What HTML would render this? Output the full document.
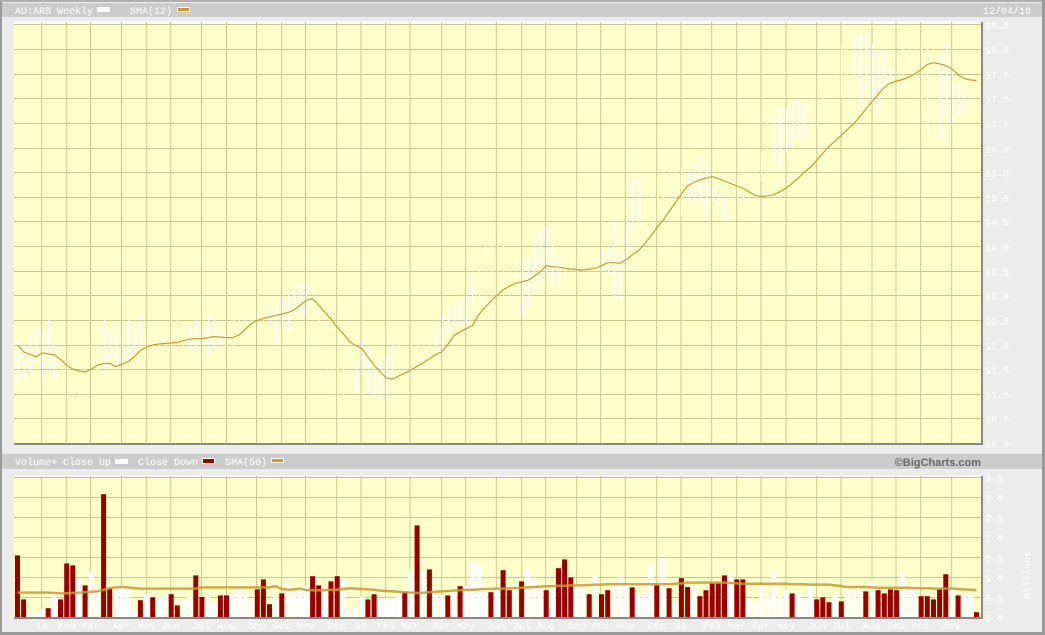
<!DOCTYPE html>
<html><head><meta charset="utf-8">
<style>
html,body{margin:0;padding:0;background:#ececec;}
body{width:1045px;height:635px;position:relative;overflow:hidden;font-family:"Liberation Mono",monospace;}
svg{position:absolute;left:0;top:0;}
</style></head>
<body>
<svg id="c" width="1045" height="635"></svg>
<script>
// ---- data ----
const monthLabels = ["14","Feb","Mar","Apr","May","Jun","Jul","Aug","Sep","Oct","Nov","Dec","15","Feb","Mar","Apr","May","Jun","Jul","Aug","Sep","Oct","Nov","Dec","16","Feb","Mar","Apr","May","Jun","Jul","Aug","Sep","Oct","Nov"];
const monthGridX = [41.7,66.7,90.5,121.5,146.7,170.7,201.5,226.5,256.5,281.7,305.5,336.7,361,385.7,410,441.7,465.7,496.3,521.7,545.7,576.7,600.7,625.3,656.7,681,711.7,736.7,761,786,816.7,841,872,896,920.7,951.7];
const priceTicks = [10.0,10.5,11.0,11.5,12.0,12.5,13.0,13.5,14.0,14.5,15.0,15.5,16.0,16.5,17.0,17.5,18.0,18.5];
const volTicks = [0,0.5,1.0,1.5,2.0,2.5,3.0,3.5];
const sma12 = [11.99,11.85,11.80,11.75,11.83,11.81,11.79,11.70,11.58,11.50,11.46,11.44,11.50,11.58,11.61,11.62,11.55,11.60,11.65,11.75,11.88,11.95,11.99,12.01,12.02,12.03,12.04,12.08,12.11,12.12,12.12,12.14,12.16,12.15,12.14,12.14,12.19,12.30,12.42,12.49,12.53,12.56,12.59,12.62,12.65,12.70,12.80,12.90,12.93,12.80,12.65,12.52,12.35,12.22,12.06,11.98,11.92,11.75,11.58,11.45,11.32,11.30,11.36,11.42,11.48,11.56,11.63,11.71,11.79,11.85,12.00,12.18,12.26,12.32,12.38,12.60,12.75,12.88,13.00,13.11,13.18,13.24,13.27,13.30,13.38,13.47,13.60,13.58,13.57,13.55,13.53,13.52,13.51,13.53,13.55,13.60,13.66,13.66,13.65,13.72,13.82,13.90,14.04,14.20,14.37,14.52,14.70,14.88,15.06,15.22,15.29,15.34,15.38,15.41,15.37,15.32,15.27,15.22,15.17,15.10,15.03,15.01,15.02,15.04,15.10,15.17,15.27,15.38,15.50,15.60,15.74,15.88,16.02,16.13,16.25,16.37,16.48,16.62,16.78,16.93,17.08,17.22,17.31,17.35,17.38,17.43,17.50,17.58,17.69,17.72,17.70,17.66,17.60,17.48,17.40,17.37,17.36,17.36,17.32];
const highs = [12.1,12.0,12.2,12.3,12.3,12.5,12.0,11.9,11.6,11.6,11.3,11.6,12.2,12.0,12.5,12.3,12.4,12.0,12.5,12.4,12.6,12.4,12.2,12.3,12.4,12.6,12.5,12.3,12.4,12.5,12.3,12.6,12.5,12.3,12.2,12.5,12.7,12.8,12.9,13.0,12.8,12.7,12.8,12.9,13.0,13.1,13.2,13.2,13.0,12.9,12.2,11.9,11.8,11.7,11.5,11.7,12.1,11.9,11.6,11.6,11.8,12.0,12.0,11.9,12.2,12.3,12.4,12.1,12.3,12.6,12.7,12.8,12.9,13.0,13.4,13.9,14.0,14.1,14.3,14.0,13.8,13.9,13.7,13.8,14.3,14.3,14.4,14.0,13.8,13.7,13.8,13.8,13.9,13.7,13.8,13.9,14.0,14.5,13.9,14.6,15.3,15.4,15.1,15.0,15.3,15.5,15.6,15.7,15.6,15.5,15.7,15.8,15.6,15.2,15.1,15.0,15.1,15.4,15.6,15.4,15.7,15.9,16.5,16.6,16.8,16.8,16.9,17.0,16.9,17.3,16.9,17.0,17.4,17.5,18.1,18.3,18.3,18.3,18.3,18.1,18.0,17.9,17.6,17.9,18.3,18.5,18.4,18.3,18.2,18.0,17.9,18.1,17.6,17.3,17.2,17.2,17.1];
const lows = [11.2,11.3,11.4,11.6,11.3,11.5,11.3,11.1,10.9,10.7,10.6,10.9,11.2,11.4,11.5,11.7,11.5,11.7,11.7,11.8,12.0,11.8,11.9,11.8,11.9,11.9,12.0,11.8,11.9,11.9,12.0,11.8,11.9,12.0,11.9,11.9,12.2,12.3,12.4,12.0,12.3,12.4,12.0,12.3,12.3,12.6,12.6,12.6,12.7,12.3,11.4,11.0,10.8,10.9,11.3,11.0,11.4,11.0,10.9,10.9,10.9,11.2,11.4,11.6,11.6,11.9,11.9,11.8,11.9,11.8,12.2,12.4,12.4,12.4,12.8,12.8,12.7,12.9,13.2,13.0,12.9,13.1,12.6,12.8,13.1,13.2,13.4,13.2,13.3,13.3,13.0,13.3,13.0,13.1,13.3,13.5,13.4,12.9,12.9,13.6,14.3,14.5,14.5,14.4,14.6,14.8,14.9,14.8,14.6,14.9,14.8,14.9,14.6,14.9,14.8,14.5,14.8,14.9,14.5,14.7,15.0,15.3,15.4,15.6,15.6,15.9,16.0,16.2,16.2,16.2,16.4,16.9,17.2,17.3,17.0,17.3,17.4,16.9,17.2,16.9,16.7,17.1,17.3,17.6,17.4,17.6,17.0,16.8,16.3,16.0,16.2,16.6,16.5,16.6,16.7];
const volumes = [1.54,0.44,0.08,0.08,0.19,0.22,0.57,0.44,1.34,1.29,0.93,0.79,1.14,0.75,3.07,0.71,0.71,0.75,0.75,0.17,0.42,0.57,0.49,0.50,0.60,0.57,0.29,0.42,0.50,1.04,0.50,0.50,0.33,0.54,0.54,0.58,0.77,0.57,0.46,0.69,0.94,0.32,0.50,0.59,0.82,0.65,0.71,0.77,1.02,0.79,0.67,0.89,1.02,0.98,0.18,0.23,0.50,0.44,0.57,0.46,0.46,0.48,0.60,0.62,1.19,2.29,1.17,1.19,0.58,0.54,0.54,0.65,0.77,0.77,1.37,1.27,0.67,0.62,0.71,1.17,0.67,0.77,0.89,1.19,0.98,0.75,0.67,0.75,1.22,1.44,0.99,0.83,0.79,0.57,1.04,0.57,0.67,0.83,1.02,0.83,0.74,0.57,0.57,1.27,0.79,1.46,0.72,0.37,0.97,0.75,0.79,0.52,0.67,0.85,0.85,1.04,1.07,0.94,0.94,0.46,0.37,0.79,0.54,1.17,0.52,0.68,0.59,0.60,0.46,0.79,0.44,0.49,0.37,0.54,0.39,0.68,0.68,0.77,0.64,0.89,0.67,0.59,0.69,0.67,1.07,0.71,0.67,0.52,0.52,0.44,0.69,1.07,0.71,0.54,0.57,0.54,0.12];
const volDown = [1,1,0,0,0,1,0,1,1,1,0,1,0,0,1,1,0,0,0,0,1,0,1,0,0,1,1,0,0,1,1,0,0,1,1,0,0,0,0,1,1,1,0,1,0,0,0,0,1,1,0,1,1,0,0,0,0,1,1,0,0,0,0,1,0,1,0,1,0,0,1,0,1,0,0,0,0,1,0,1,1,0,1,0,0,0,1,0,1,1,1,0,0,1,0,1,1,0,0,0,1,0,0,0,1,0,1,0,1,1,0,1,1,1,1,1,0,1,1,0,0,0,0,0,0,0,1,0,0,0,1,1,1,0,1,0,0,0,1,0,1,1,1,1,0,0,0,1,1,1,1,1,0,1,0,0,1];
const volSma = [0.61,0.61,0.61,0.61,0.61,0.61,0.60,0.59,0.59,0.60,0.61,0.62,0.63,0.64,0.68,0.72,0.74,0.75,0.74,0.72,0.71,0.71,0.71,0.71,0.71,0.71,0.71,0.71,0.71,0.71,0.74,0.74,0.74,0.74,0.74,0.74,0.74,0.74,0.74,0.74,0.74,0.74,0.77,0.70,0.68,0.69,0.71,0.67,0.67,0.67,0.67,0.68,0.68,0.70,0.72,0.71,0.70,0.69,0.68,0.66,0.65,0.64,0.63,0.62,0.61,0.60,0.61,0.62,0.63,0.64,0.65,0.66,0.67,0.68,0.68,0.69,0.70,0.70,0.71,0.71,0.72,0.72,0.73,0.74,0.75,0.76,0.77,0.77,0.78,0.78,0.79,0.79,0.79,0.80,0.81,0.81,0.82,0.82,0.82,0.82,0.82,0.82,0.82,0.82,0.82,0.82,0.82,0.83,0.84,0.86,0.86,0.86,0.86,0.86,0.86,0.86,0.85,0.84,0.83,0.83,0.83,0.83,0.83,0.83,0.83,0.83,0.82,0.82,0.82,0.81,0.81,0.81,0.81,0.79,0.77,0.75,0.75,0.75,0.75,0.74,0.73,0.73,0.73,0.73,0.73,0.73,0.72,0.72,0.72,0.71,0.71,0.71,0.71,0.70,0.69,0.68,0.67];

// ---- layout ----
const NS = "http://www.w3.org/2000/svg";
const svg = document.getElementById('c');
const PL = 14, PR = 981, PT = 22, PB = 443;
const VT = 476, VB = 617;
const N = volumes.length;
const xIdx = i => 17.5 + i * (959 / (N - 1));
const yPrice = v => PB - (v - 10) * 49.25;
const yVol = v => VB - v * 40;

function mk(tag, attrs, parent) {
  const e = document.createElementNS(NS, tag);
  for (const k in attrs) e.setAttribute(k, attrs[k]);
  (parent || svg).appendChild(e);
  return e;
}
function txt(s, x, y, opts, parent) {
  const t = mk('text', Object.assign({x: x, y: y, 'font-family': '"Liberation Mono", monospace', 'font-size': 10, fill: '#ffffff'}, opts || {}), parent);
  t.textContent = s;
  return t;
}

let e = mk('rect', {x: 0, y: 0, width: 1045, height: 635, fill: '#ececec'});


mk('rect', {x: 0, y: 0, width: 2, height: 635, fill: '#9a9a9a'});
mk('rect', {x: 0, y: 0, width: 1045, height: 2, fill: '#b0b0b0'});
mk('rect', {x: 1042, y: 0, width: 3, height: 635, fill: '#9a9a9a'});
mk('rect', {x: 0, y: 632, width: 1045, height: 3, fill: '#9a9a9a'});

const defs = mk('defs', {});
const cp1 = mk('clipPath', {id: 'clipP'}, defs);
mk('rect', {x: PL, y: PT, width: PR - PL, height: PB - PT}, cp1);
const cp2 = mk('clipPath', {id: 'clipV'}, defs);
mk('rect', {x: PL, y: VT, width: PR - PL, height: VB - VT}, cp2);

const hdr = mk('g', {});


mk('rect', {x: 2, y: 3, width: 1040, height: 14, fill: '#cccccc'}, hdr);
e = txt('AU:ARB Weekly', 15, 14, {}, hdr);


mk('rect', {x: 97, y: 7, width: 13, height: 5, fill: '#ffffff'}, hdr);
e = txt('SMA(12)', 130, 14, {}, hdr);


mk('rect', {x: 177.5, y: 7.5, width: 12, height: 4, fill: '#cc9933', stroke: '#ffffff', 'stroke-width': 1}, hdr);
e = txt('12/04/16', 983, 14, {}, hdr);



const vh = mk('g', {});


mk('rect', {x: 2, y: 454, width: 1040, height: 15, fill: '#cccccc'}, vh);
txt('Volume+ Close Up', 15, 465, {}, vh);
mk('rect', {x: 115, y: 459, width: 13, height: 5, fill: '#ffffff'}, vh);
txt('Close Down', 138, 465, {}, vh);
mk('rect', {x: 202.5, y: 458.5, width: 12, height: 5, fill: '#990000', stroke: '#ffffff', 'stroke-width': 1}, vh);
txt('SMA(50)', 225, 465, {}, vh);
mk('rect', {x: 271.5, y: 458.5, width: 12, height: 4, fill: '#cc9933', stroke: '#ffffff', 'stroke-width': 1}, vh);
e = txt('©BigCharts.com', 981, 466, {'text-anchor': 'end', fill: '#666666', 'font-family': '"Liberation Sans", sans-serif', 'font-weight': 'bold', 'font-size': 11}, vh);



function panel(top, bottom, name) {
  const g = mk('g', {});
  
  
  mk('rect', {x: PL, y: top, width: PR - PL, height: bottom - top, fill: '#ffffcc'}, g);
  mk('line', {x1: PL, y1: top + 0.5, x2: PR, y2: top + 0.5, stroke: '#ffffff', 'stroke-width': 2}, g);
  mk('line', {x1: PL, y1: bottom + 1, x2: PR + 1, y2: bottom + 1, stroke: '#888888', 'stroke-width': 2}, g);
  mk('line', {x1: PR + 1, y1: top, x2: PR + 1, y2: bottom + 2, stroke: '#888888', 'stroke-width': 2}, g);
  monthGridX.forEach(x => mk('line', {x1: x, y1: top, x2: x, y2: bottom, stroke: '#c8c890', 'stroke-width': 1}, g));
  return g;
}
const pp = panel(PT, PB, 'price-panel');
priceTicks.forEach(v => {
  const y = Math.round(yPrice(v)) + 0.5;
  if (v > 10) mk('line', {x1: PL, y1: y, x2: PR, y2: y, stroke: '#c8c890', 'stroke-width': 1}, pp);
  const t = txt(v.toFixed(1), 985, y + 4, {});
  
  
});
const vp = panel(VT, VB, 'volume-panel');
volTicks.forEach(v => {
  const y = Math.round(yVol(v)) + 0.5;
  if (v > 0) mk('line', {x1: PL, y1: y, x2: PR, y2: y, stroke: '#c8c890', 'stroke-width': 1}, vp);
  const t = txt(v.toFixed(1), 985, y + 4, {});
  
  
});
e = txt('Millions', 1030, 575, {transform: 'rotate(-90 1030 575)', 'text-anchor': 'middle'});



monthLabels.forEach((m, k) => {
  const t = txt(m, monthGridX[k], 629, {'text-anchor': 'middle'});
  
  
});

const bars = mk('g', {'clip-path': 'url(#clipP)'});


const nb = Math.min(N, highs.length, lows.length);
for (let i = 0; i < nb; i++) {
  const x = Math.round(xIdx(i)) + 0.5;
  const b = mk('line', {x1: x, y1: yPrice(highs[i]), x2: x, y2: yPrice(lows[i]), stroke: '#ffffff', 'stroke-width': 1}, bars);
  
  
}
const ns = Math.min(N, sma12.length);
let d = sma12.slice(0, ns).map((v, i) => (i ? 'L' : 'M') + xIdx(i).toFixed(1) + ' ' + yPrice(v).toFixed(1)).join(' ');
e = mk('path', {d: d, fill: 'none', stroke: '#cc9933', 'stroke-width': 1.2, 'clip-path': 'url(#clipP)'});



const vg = mk('g', {'clip-path': 'url(#clipV)'});


for (let i = 0; i < N; i++) {
  const x = xIdx(i) - 2.5;
  const r = mk('rect', {x: x.toFixed(1), y: yVol(volumes[i]).toFixed(1), width: 5, height: (VB - yVol(volumes[i])).toFixed(1), fill: volDown[i] ? '#990000' : '#ffffff'}, vg);
  
  
}
const nv = Math.min(N, volSma.length);
d = volSma.slice(0, nv).map((v, i) => (i ? 'L' : 'M') + xIdx(i).toFixed(1) + ' ' + yVol(v).toFixed(1)).join(' ');
e = mk('path', {d: d, fill: 'none', stroke: '#cc9933', 'stroke-width': 2.5, opacity: 0.85, 'clip-path': 'url(#clipV)'});


</script>
</body></html>
